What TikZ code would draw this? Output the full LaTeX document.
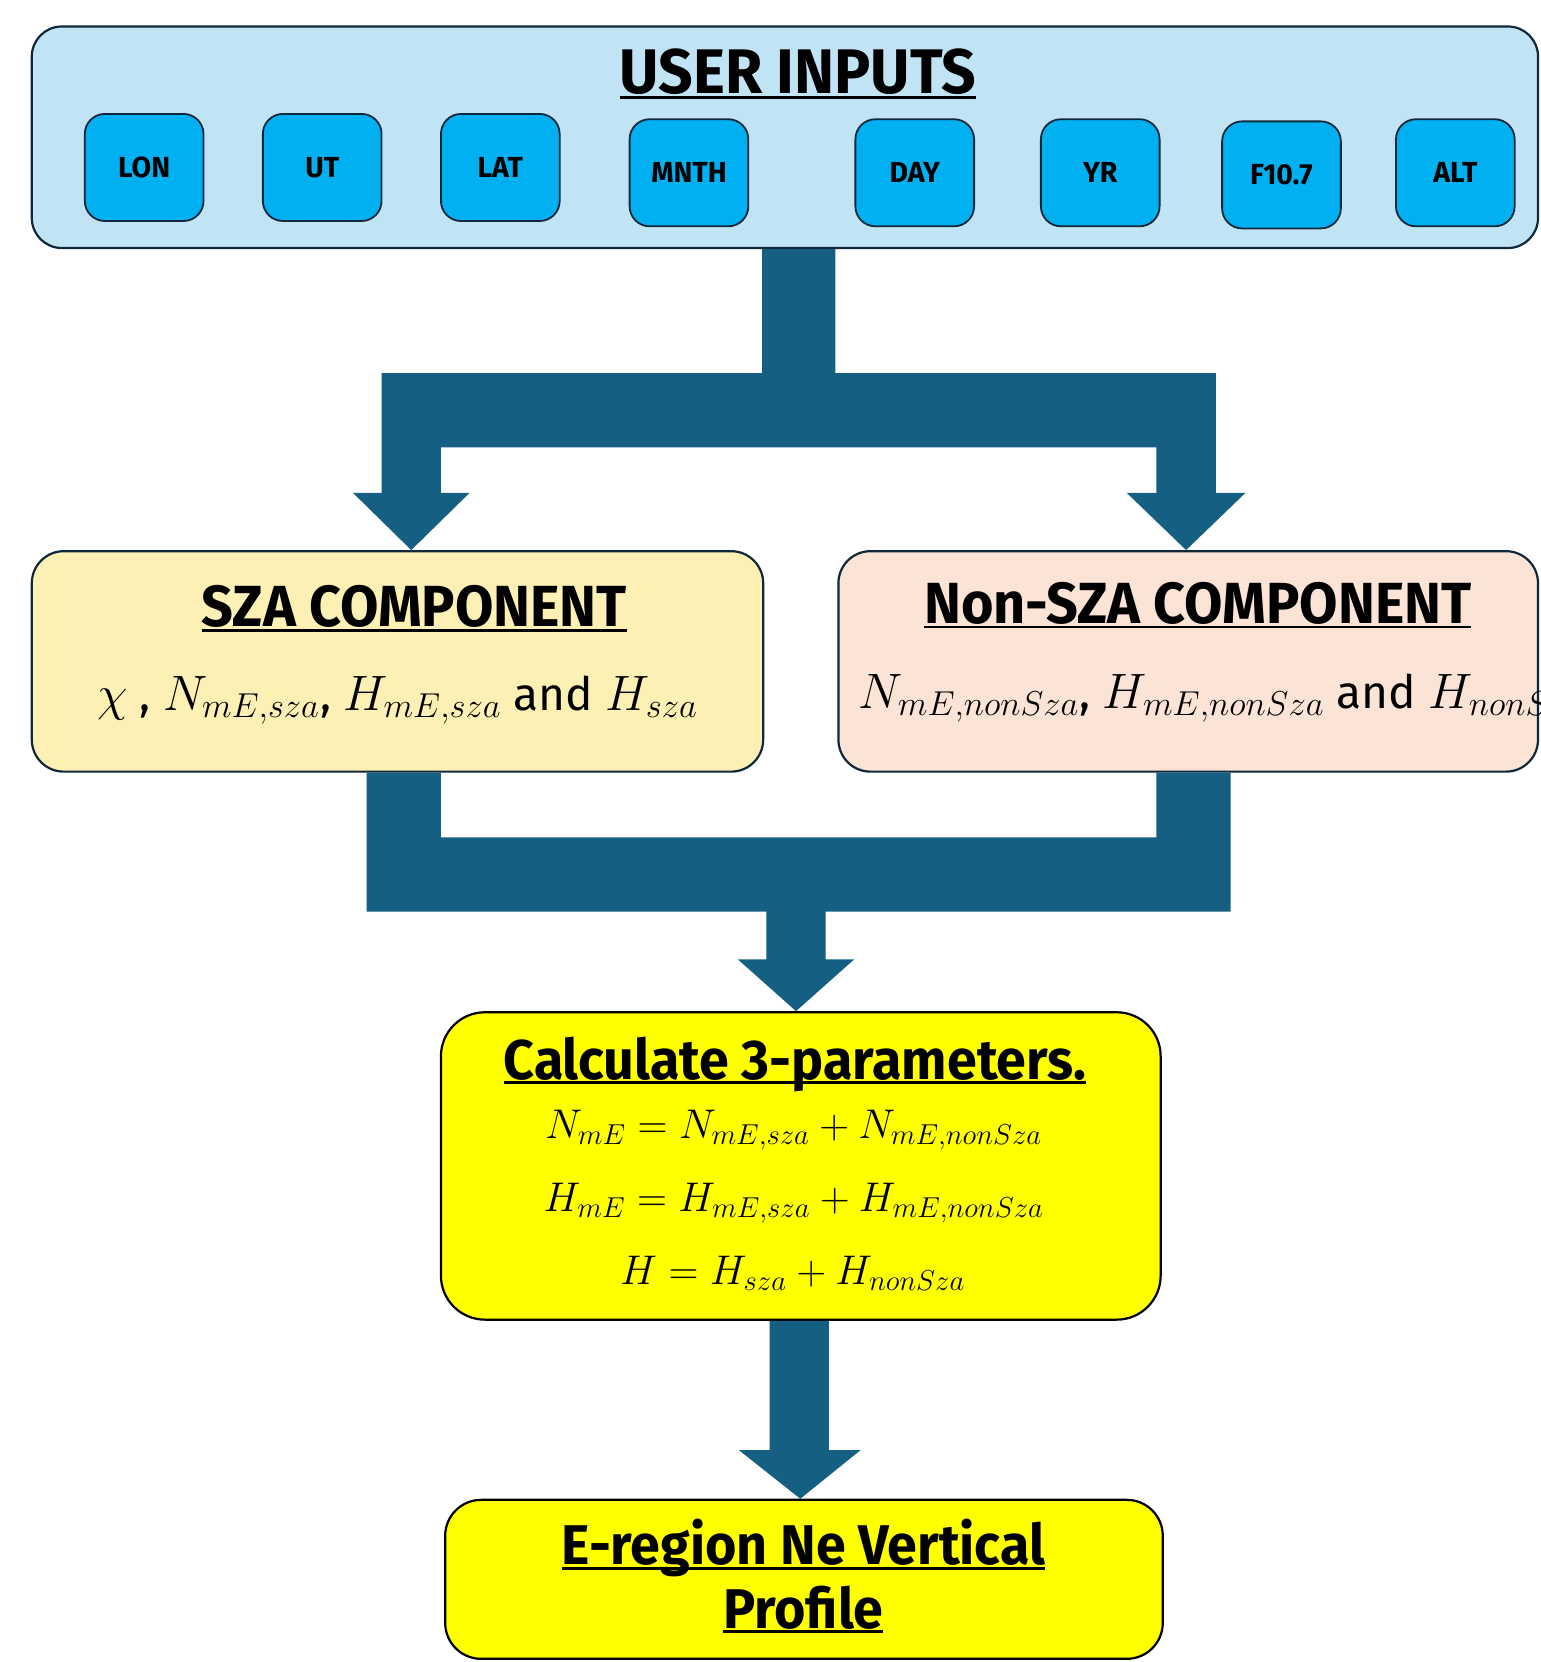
\documentclass[tikz,border=0pt]{standalone}
\usepackage{fontspec}
\setmainfont{Fira Sans}
\newfontfamily\headfont[FakeStretch=0.96]{Fira Sans}
\newfontfamily\tagfont[FakeStretch=0.98]{Fira Sans}
\usetikzlibrary{fit}
\definecolor{flowblue}{HTML}{156082}
\definecolor{edgeblue}{HTML}{10283A}
\definecolor{paneblue}{HTML}{C1E4F5}
\definecolor{tagblue}{HTML}{00B0F0}
\definecolor{szafill}{HTML}{FDF0B4}
\definecolor{nonszafill}{HTML}{FBE3D6}
\definecolor{calcfill}{HTML}{FFFF00}
\newcommand\uln[1]{\setbox0\hbox{#1}\rlap{\rule[-0.09em]{\wd0}{0.05em}}\box0}
\tikzset{
  panel/.style={draw=edgeblue, line width=1.1pt, inner sep=0pt},
  inbox/.style={draw=edgeblue, fill=tagblue, line width=0.9pt, rounded corners=10pt,
    minimum width=112*0.53pt, minimum height=101*0.53pt, inner sep=0pt,
    font=\tagfont\bfseries\fontsize{14.5}{15}\selectfont},
  head/.style={anchor=base, inner sep=0pt, font=\headfont\bfseries\fontsize{29}{32}\selectfont},
  formula/.style={anchor=base, inner sep=0pt, font=\fontsize{22}{26}\selectfont},
  flow/.style={fill=flowblue},
}
\begin{document}
\begin{tikzpicture}[x=0.53pt, y=-0.53pt]
  \useasboundingbox (0,0) rectangle (1453,1568);
  \clip (0,0) rectangle (1453,1568);

  %%%%% BOXES %%%%%
  \node[panel, fill=paneblue, rounded corners=15pt, fit={(30,25) (1451,234)}] (inputs) {};
  \node[panel, fill=szafill, rounded corners=16pt, fit={(30,520) (720,728)}] (sza) {};
  \node[panel, fill=nonszafill, rounded corners=16pt, fit={(791,520) (1451,728)}] (nonsza) {};
  \node[panel, draw=black, fill=calcfill, rounded corners=22pt, fit={(416,955) (1095,1245)}] (calc) {};
  \node[panel, draw=black, fill=calcfill, rounded corners=18pt, fit={(420,1415) (1097,1565)}] (profile) {};

  %%%%% INPUTS %%%%%
  \node[head, font=\headfont\bfseries\fontsize{31.5}{34}\selectfont] (uititle) at (753,88) {\uln{USER INPUTS}};
  \foreach \xc/\yc/\lbl [count=\i] in {136/158/LON, 304/158/UT, 472/158/LAT, 650/163/MNTH,
      863/163/DAY, 1038/163/YR, 1209/165/F10.7, 1373/163/ALT}
    \node[inbox] (in\i) at (\xc,\yc) {\lbl};

  %%%%% SPLIT ARROW %%%%%
  \fill[flow] (719,0 |- inputs.south) -- (719,352) -- (360,352) -- (360,465) -- (333,465)
    -- (388,0 |- sza.north) -- (443,465) -- (416,465) -- (416,422) -- (1091,422)
    -- (1091,465) -- (1063,465) -- (1119,0 |- nonsza.north) -- (1175,465) -- (1147,465)
    -- (1147,352) -- (788,352) -- (788,0 |- inputs.south) -- cycle;

  %%%%% COMPONENTS %%%%%
  \node[head] (szatitle) at (391,591) {\uln{SZA COMPONENT}};
  \node[formula, font=\fontsize{23}{27}\selectfont] (szaeq) at (375,670)
    {$\chi$ , $N_{mE,sza}$, $H_{mE,sza}$ and $H_{sza}$};
  \node[head] (nonszatitle) at (1130,588) {\uln{Non-SZA COMPONENT}};
  \node[formula, font=\fontsize{23}{27}\selectfont, anchor=base west] (nonszaeq) at (810,668)
    {$N_{mE,nonSza}$, $H_{mE,nonSza}$ and $H_{nonSza}$};

  %%%%% MERGE ARROW %%%%%
  \fill[flow] (346,0 |- sza.south) -- (346,860) -- (723,860) -- (723,905) -- (696,905)
    -- (751,0 |- calc.north) -- (806,905) -- (779,905) -- (779,860) -- (1161,860)
    -- (1161,0 |- nonsza.south) -- (1091,0 |- nonsza.south) -- (1091,790) -- (416,790)
    -- (416,0 |- sza.south) -- cycle;

  %%%%% CALCULATE %%%%%
  \node[head, font=\headfont\bfseries\fontsize{28}{32}\selectfont] (calctitle) at (750,1018) {\uln{Calculate 3-parameters.}};
  \node[formula] (eqn) at (749,1074) {$N_{mE} = N_{mE,sza} + N_{mE,nonSza}$};
  \node[formula] (eqh) at (749,1143) {$H_{mE} = H_{mE,sza} + H_{mE,nonSza}$};
  \node[formula] (eqt) at (748,1212) {$H = H_{sza} + H_{nonSza}$};

  %%%%% LAST ARROW %%%%%
  \fill[flow] (726,0 |- calc.south) -- (726,1368) -- (697,1368) -- (755,0 |- profile.north)
    -- (812,1368) -- (782,1368) -- (782,0 |- calc.south) -- cycle;

  \node[head, font=\headfont\bfseries\fontsize{28}{32}\selectfont] (proftitle) at (758,1476) {\uln{E-region Ne Vertical}};
  \node[head, font=\headfont\bfseries\fontsize{28}{32}\selectfont] (proftitle2) at (758,1536) {\uln{Profile}};
\end{tikzpicture}
\end{document}
